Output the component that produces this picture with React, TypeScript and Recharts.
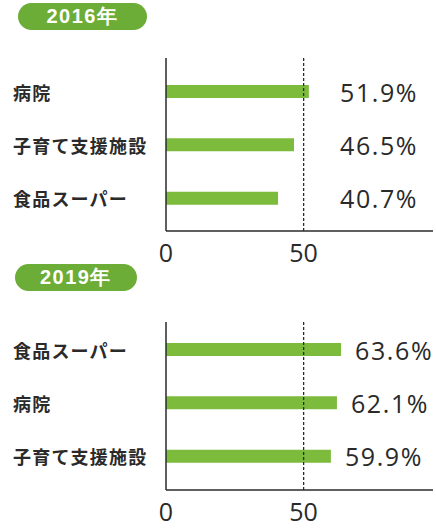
import React from 'react'
import { BarChart, Bar, XAxis, YAxis, ReferenceLine, LabelList } from 'recharts'

const cats2016 = ['病院', '子育て支援施設', '食品スーパー']
const vals2016 = [51.9, 46.5, 40.7]
const cats2019 = ['食品スーパー', '病院', '子育て支援施設']
const vals2019 = [63.6, 62.1, 59.9]
const xTicks = [0, 50]

const BAR = '#7cbb3c'
const PILL = '#6cad38'
const INK = '#2a2a2a'
const NUM_FONT = '"Open Sans", sans-serif'
const JP_FONT = '"Noto Sans CJK JP", sans-serif'

const YTick = (props: any) => {
  const { y, payload } = props
  return (
    <text x={13} y={y} dominantBaseline="central" textAnchor="start" fontFamily={JP_FONT} fontWeight={700} fontSize={18} letterSpacing={1.2} fill={INK}>
      {payload.value}
    </text>
  )
}

const XTick = (props: any) => {
  const { x, y, payload } = props
  return (
    <text x={x} y={y + 23} textAnchor="middle" fontFamily={NUM_FONT} fontSize={25} fill={INK}>
      {payload.value}
    </text>
  )
}

const ValueLabel = (props: any) => {
  const { x, y, width, height, value } = props
  const tx = Math.max(x + width + 14, 340)
  return (
    <text x={tx} y={y + height / 2} dominantBaseline="central" textAnchor="start" fontFamily={NUM_FONT} fontSize={25} letterSpacing={1.6} fill={INK}>
      {value.toFixed(1)}%
    </text>
  )
}

const Pill = ({ label, left, top, width }: { label: string; left: number; top: number; width: number }) => (
  <div
    style={{
      position: 'absolute', left, top, width, height: 27, borderRadius: 14, background: PILL,
      color: '#fff', fontFamily: '"Liberation Sans", Arial, sans-serif', fontWeight: 700, fontSize: 20,
      letterSpacing: 1.5, lineHeight: '27px', textAlign: 'center',
    }}
  >
    {label}
  </div>
)

const YearChart = ({ cats, vals, top, marginTop, marginBottom, height, pad }: any) => {
  const data = cats.map((c: string, i: number) => ({ name: c, value: vals[i] }))
  return (
    <div style={{ position: 'absolute', left: 0, top }}>
      <BarChart width={436} height={height} data={data} layout="vertical" margin={{ top: marginTop, right: 3, bottom: marginBottom, left: 0 }} barSize={13}>
        <XAxis type="number" domain={[0, 97]} ticks={xTicks} tickLine={false} height={30} tick={<XTick />} axisLine={{ stroke: INK, strokeWidth: 1.5 }} allowDataOverflow />
        <YAxis type="category" dataKey="name" width={166} tickLine={false} tick={<YTick />} axisLine={{ stroke: INK, strokeWidth: 1.5 }} padding={pad} />
        <Bar dataKey="value" fill={BAR} isAnimationActive={false}>
          <LabelList dataKey="value" content={<ValueLabel />} />
        </Bar>
        <ReferenceLine x={50} stroke={INK} strokeWidth={1.3} strokeDasharray="3 2" />
      </BarChart>
    </div>
  )
}

export default function App() {
  return (
    <div style={{ position: 'absolute', left: 0, top: 0, width: 436, height: 528, background: '#fff', overflow: 'hidden' }}>
      <YearChart cats={cats2016} vals={vals2016} top={0} height={270} marginTop={58} marginBottom={9} pad={{ top: 7, bottom: 6 }} />
      <YearChart cats={cats2019} vals={vals2019} top={262} height={266} marginTop={60} marginBottom={8} pad={{ top: 1, bottom: 7 }} />
      <Pill label="2016年" left={18} top={3} width={129} />
      <Pill label="2019年" left={15} top={264} width={122} />
    </div>
  )
}
